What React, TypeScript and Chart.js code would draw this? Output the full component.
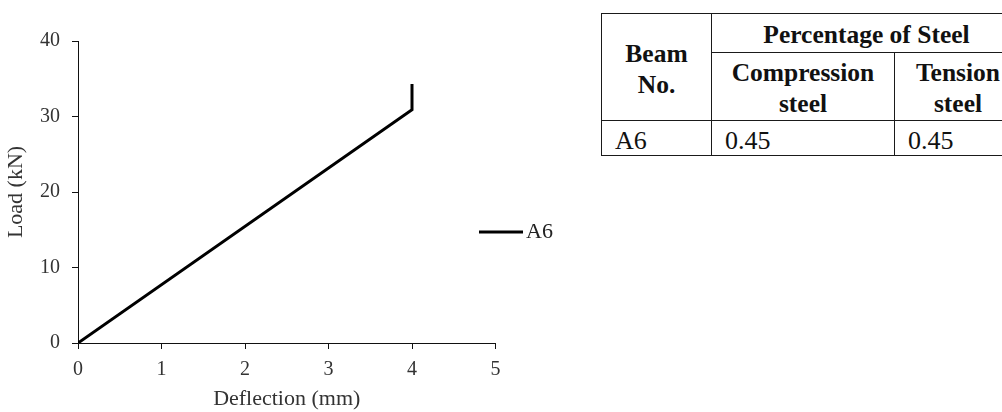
import React, { useEffect, useRef } from "react";
import { Chart, registerables } from "chart.js";

Chart.register(...registerables);

// ---- chart data ----
const seriesLabel = "A6";
const deflection = [0, 4.0, 4.0];
const load = [0, 30.9, 34.3];
const xTitle = "Deflection (mm)";
const yTitle = "Load (kN)";
const xTicks = [0, 1, 2, 3, 4, 5];
const yTicks = [0, 10, 20, 30, 40];

// ---- table data ----
const beamHeader = ["Beam", "No."];
const groupHeader = "Percentage of Steel";
const subHeaders = [
  ["Compression", "steel"],
  ["Tension", "steel"],
];
const tableRows = [["A6", "0.45", "0.45"]];

const SERIF = '"Liberation Serif", "Times New Roman", serif';

const sideLegend = {
  id: "sideLegend",
  afterDraw(chart: any) {
    const ctx = chart.ctx;
    const ds = chart.data.datasets[0];
    const x = chart.chartArea.right - 16.5;
    const y = 232;
    ctx.save();
    ctx.strokeStyle = ds.borderColor;
    ctx.lineWidth = 3;
    ctx.beginPath();
    ctx.moveTo(x, y);
    ctx.lineTo(x + 44, y);
    ctx.stroke();
    ctx.font = "22px " + SERIF;
    ctx.fillStyle = "#222";
    ctx.textBaseline = "middle";
    ctx.textAlign = "left";
    ctx.fillText(ds.label, x + 47, y);
    ctx.restore();
  },
};

function LoadChart() {
  const ref = useRef<HTMLCanvasElement | null>(null);
  useEffect(() => {
    if (!ref.current) return;
    const chart = new Chart(ref.current, {
      type: "line",
      data: {
        datasets: [
          {
            label: seriesLabel,
            data: deflection.map((x, i) => ({ x, y: load[i] })),
            borderColor: "#000",
            borderWidth: 3,
            pointRadius: 0,
            tension: 0,
            fill: false,
          },
        ],
      },
      options: {
        animation: false,
        responsive: false,
        maintainAspectRatio: false,
        layout: { padding: { left: 0, top: 41, right: 74.5, bottom: 0 } },
        plugins: { legend: { display: false }, tooltip: { enabled: false } },
        scales: {
          x: {
            type: "linear",
            min: xTicks[0],
            max: xTicks[xTicks.length - 1],
            afterBuildTicks: (s: any) => {
              s.ticks = xTicks.map((v) => ({ value: v }));
            },
            afterFit: (s: any) => {
              s.height = 69;
            },
            grid: {
              drawOnChartArea: false,
              drawTicks: true,
              tickLength: 6,
              tickColor: "#111",
            },
            border: { display: true, color: "#111", width: 1 },
            ticks: {
              padding: 9,
              color: "#333",
              font: { family: SERIF, size: 20 },
              maxRotation: 0,
            },
            title: {
              display: true,
              text: xTitle,
              color: "#333",
              font: { family: SERIF, size: 22 },
              padding: { top: 0, bottom: 0 },
            },
          },
          y: {
            type: "linear",
            min: yTicks[0],
            max: yTicks[yTicks.length - 1],
            afterBuildTicks: (s: any) => {
              s.ticks = yTicks.map((v) => ({ value: v }));
            },
            afterFit: (s: any) => {
              s.width = 78;
            },
            grid: {
              drawOnChartArea: false,
              drawTicks: true,
              tickLength: 6,
              tickColor: "#111",
            },
            border: { display: true, color: "#111", width: 1 },
            ticks: {
              padding: 12,
              color: "#333",
              font: { family: SERIF, size: 20 },
            },
            title: {
              display: true,
              text: yTitle,
              color: "#333",
              font: { family: SERIF, size: 22 },
              padding: { top: 3, bottom: 0 },
            },
          },
        },
      } as any,
      plugins: [sideLegend],
    });
    return () => chart.destroy();
  }, []);
  return (
    <canvas
      ref={ref}
      width={570}
      height={412}
      style={{ position: "absolute", left: 0, top: 0, width: 570, height: 412, display: "block" }}
    />
  );
}

// table grid lines (page pixels)
const colX = [601, 711, 894, 1021];
const rowY = [13, 52, 120, 155];

function Cell(props: {
  c0: number;
  c1: number;
  r0: number;
  r1: number;
  lines: string[];
  bold: boolean;
  align: "left" | "center";
  baseline: number;
}) {
  const { c0, c1, r0, r1, lines, bold, align, baseline } = props;
  const left = colX[c0];
  const top = rowY[r0];
  const width = colX[c1] - left + 1;
  const height = rowY[r1] - top + 1;
  const size = bold ? 25.5 : 26;
  const lh = 31;
  const baseFromTop = (lh - 1.107 * size) / 2 + 0.891 * size;
  const textTop = baseline - baseFromTop - top - 1;
  return (
    <div
      style={{
        position: "absolute",
        left,
        top,
        width,
        height,
        boxSizing: "border-box",
        border: "1px solid #1a1a1a",
      }}
    >
      <div
        style={{
          position: "absolute",
          left: align === "left" ? 13 : 0,
          right: 0,
          top: textTop,
          textAlign: align,
          fontFamily: SERIF,
          fontSize: size,
          fontWeight: bold ? 700 : 400,
          lineHeight: lh + "px",
          color: "#111",
          whiteSpace: "nowrap",
        }}
      >
        {lines.map((l, i) => (
          <div key={i}>{l}</div>
        ))}
      </div>
    </div>
  );
}

function SteelTable() {
  return (
    <>
      <Cell c0={0} c1={1} r0={0} r1={2} lines={beamHeader} bold align="center" baseline={61.7} />
      <Cell c0={1} c1={3} r0={0} r1={1} lines={[groupHeader]} bold align="center" baseline={43.3} />
      {subHeaders.map((h, i) => (
        <Cell key={i} c0={1 + i} c1={2 + i} r0={1} r1={2} lines={h} bold align="center" baseline={80.7} />
      ))}
      {tableRows.map((row, r) =>
        row.map((v, c) => (
          <Cell key={r + "-" + c} c0={c} c1={c + 1} r0={2 + r} r1={3 + r} lines={[v]} bold={false} align="left" baseline={149.3} />
        ))
      )}
    </>
  );
}

export default function App() {
  return (
    <div
      style={{
        position: "fixed",
        left: 0,
        top: 0,
        width: 1002,
        height: 412,
        overflow: "hidden",
        background: "#fff",
      }}
    >
      <LoadChart />
      <SteelTable />
    </div>
  );
}
